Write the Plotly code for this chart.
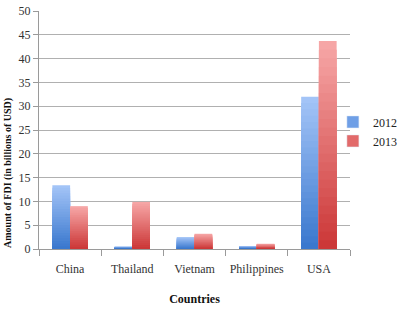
import plotly.graph_objects as go

countries = ["China", "Thailand", "Vietnam", "Philippines", "USA"]
fdi_2012 = [13.4, 0.5, 2.5, 0.6, 32.0]
fdi_2013 = [9.0, 9.9, 3.2, 1.1, 43.7]

series = [
    ("2012", fdi_2012, (163, 196, 247), (58, 120, 206), "#6f9fe6"),
    ("2013", fdi_2013, (246, 166, 166), (204, 56, 56), "#e26a6a"),
]

FONT = "Liberation Serif, serif"

N = 24
fig = go.Figure()
for name, vals, top, bot, legc in series:
    for k in range(N):
        f = 1 - k / N
        t = k / (N - 1)
        c = tuple(round(top[i] + (bot[i] - top[i]) * t) for i in range(3))
        fig.add_trace(go.Bar(
            x=countries, y=[v * f for v in vals], name=name,
            offsetgroup=name, legendgroup=name, showlegend=False,
            marker=dict(color="rgb(%d,%d,%d)" % c, line=dict(width=0)),
            hoverinfo="skip" if k else None,
        ))
    fig.add_trace(go.Bar(
        x=countries, y=[None] * len(countries), name=name,
        offsetgroup=name, legendgroup=name, showlegend=True,
        marker=dict(color=legc),
    ))

fig.update_layout(
    width=398, height=314,
    margin=dict(l=39, r=48, t=11, b=65, autoexpand=False),
    paper_bgcolor="white", plot_bgcolor="white",
    barmode="group", bargap=0.43, bargroupgap=0,
    font=dict(family=FONT, size=12, color="#222"),
    legend=dict(x=0.945, y=0.494, xanchor="left", yanchor="middle",
                font=dict(size=12), itemwidth=30, tracegroupgap=0,
                bgcolor="rgba(0,0,0,0)"),
    showlegend=True,
    annotations=[dict(
        text="<b>Amount of FDI (in billions of USD)</b>",
        textangle=-90, xref="paper", yref="paper",
        x=-0.125, y=0.32, xanchor="left", yanchor="middle",
        showarrow=False, font=dict(size=10, color="#111"),
    )],
)
fig.update_xaxes(
    showline=True, linecolor="#9a9a9a", linewidth=1, automargin=False,
    ticks="outside", tickson="boundaries", ticklen=6, tickcolor="#9a9a9a",
    tickangle=0, ticklabelstandoff=9,
    title=dict(text="<b>Countries</b>", font=dict(size=12, color="#111"),
               standoff=19),
    tickfont=dict(size=12, color="#333"),
)
fig.update_yaxes(
    range=[0, 50], dtick=5, showgrid=True, gridcolor="#b0b0b0", gridwidth=1,
    showline=True, linecolor="#9a9a9a", ticks="outside", ticklen=5,
    tickcolor="#9a9a9a", zeroline=False, automargin=False,
    tickfont=dict(size=12, color="#333"),
)

fig.write_html("out.html")
